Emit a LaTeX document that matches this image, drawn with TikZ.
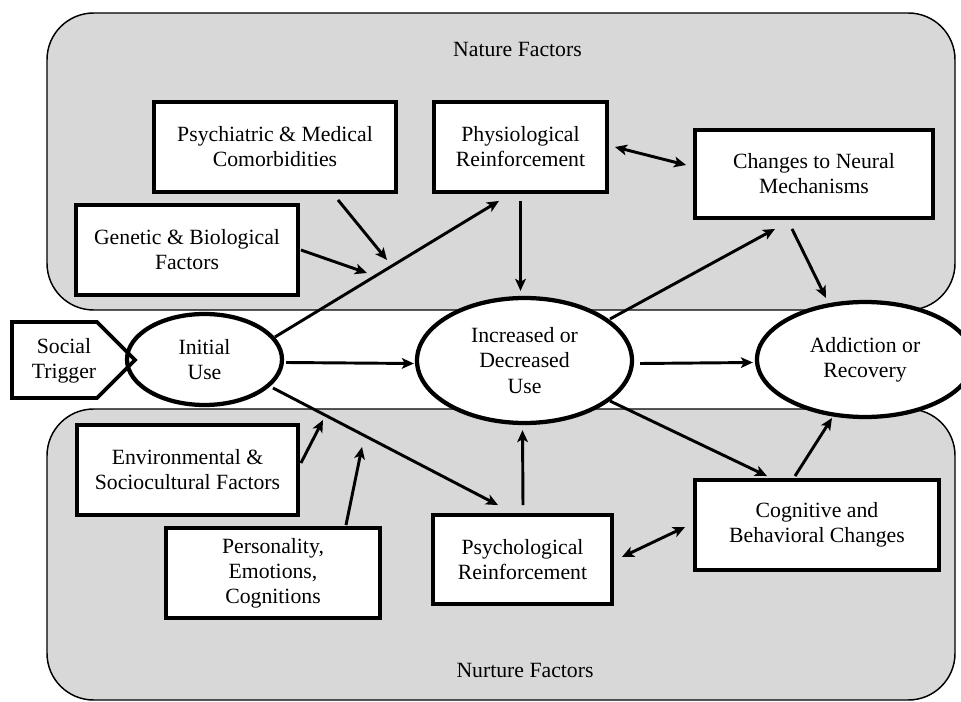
\documentclass[tikz,border=0pt]{standalone}
\usepackage{fontspec}
\setmainfont{Liberation Serif}
\usetikzlibrary{shapes.geometric,arrows.meta,calc}
\definecolor{panelgray}{RGB}{216,216,216}
\newcommand{\bodyfont}{\fontsize{16.3}{18.8}\selectfont}
\tikzset{
  panel/.style={draw=black, line width=1.1pt, fill=panelgray, rounded corners=35pt},
  box/.style={draw, line width=2.9pt, fill=white, align=center, inner sep=2pt, font=\bodyfont},
  oval/.style={ellipse, draw, line width=3.2pt, fill=white, align=center, inner sep=0pt, font=\bodyfont},
  lbl/.style={font=\bodyfont, inner sep=0pt},
  arr/.style={-{Stealth[length=9pt,width=8pt,inset=2.2pt]}, line width=2.2pt},
  darr/.style={{Stealth[length=9pt,width=8pt,inset=2.2pt]}-{Stealth[length=9pt,width=8pt,inset=2.2pt]}, line width=2.2pt},
  trigshape/.style={line width=2.9pt, line join=miter}
}
\begin{document}
\begin{tikzpicture}[x=0.75pt,y=-0.75pt]
\useasboundingbox (0,0) rectangle (961,702);
\clip (0,0) rectangle (961,702);
% panels
\path[panel] (47,13) rectangle (955,310);
\path[panel] (47,409) rectangle (955,700);
\node[lbl] (nature) at (517.5,49) {Nature Factors};
\node[lbl] (nurture) at (525,670) {Nurture Factors};

% social trigger (fill under the oval, outline over it)
\fill[white] (12,322) -- (97,322) -- (135,360) -- (97,398) -- (12,398) -- cycle;

% ellipses
\node[oval, minimum width=116.25pt, minimum height=68.25pt] (init) at (204.5,359.5) {Initial\\Use};
\node[oval, minimum width=161.25pt, minimum height=93.75pt] (incr) at (524.5,360.5) {Increased or\\Decreased\\Use};
\node[oval, minimum width=162pt, minimum height=86.25pt] (addic) at (865,359.5) {Addiction or\\Recovery};

\draw[trigshape] (12,322) -- (97,322) -- (135,360) -- (97,398) -- (12,398) -- cycle;
\node[lbl, align=center] (trig) at (64,361) {Social\\Trigger};

% boxes
\node[box, minimum width=181.5pt, minimum height=67.5pt] (psych) at (275,147) {Psychiatric \& Medical\\Comorbidities};
\node[box, minimum width=129.75pt, minimum height=67.5pt] (phys) at (520.5,147) {Physiological\\Reinforcement};
\node[box, minimum width=166.5pt, minimum height=67.5pt] (gen) at (187,250) {Genetic \& Biological\\Factors};
\node[box, minimum width=178.5pt, minimum height=66pt] (neural) at (814,174) {Changes to Neural\\Mechanisms};
\node[box, minimum width=165.75pt, minimum height=67.5pt] (env) at (187.5,470) {Environmental \&\\Sociocultural Factors};
\node[box, minimum width=160.5pt, minimum height=67.5pt] (pers) at (273,573) {Personality,\\Emotions,\\Cognitions};
\node[box, minimum width=134.25pt, minimum height=66.75pt] (psyc) at (522.5,559.5) {Psychological\\Reinforcement};
\node[box, minimum width=183pt, minimum height=67.5pt] (cog) at (817,525) {Cognitive and\\Behavioral Changes};

% junction points on arrows
\coordinate (j1) at (387,260);
\coordinate (j2) at (367,273);
\coordinate (j3) at (323,420);
\coordinate (j4) at (362,447);

% connectors
\draw[arr] ($(init)+(70.5,-22.5)$) -- ($(phys.south)+(-21.5,7)$);
\draw[arr] ($(psych.south)+(63,6)$) -- (j1);
\draw[arr] ($(gen.east)+(1,0)$) -- (j2);
\draw[arr] ($(phys.south)+(0,7)$) -- ($(phys.south |- incr.north)+(0,-5)$);
\draw[darr] ($(phys.east)+(6,0)$) -- ($(neural.west)+(-7,-9)$);
\draw[arr] ($(incr)+(85.5,-41.5)$) -- ($(neural.south)+(-39,9)$);
\draw[arr] ($(neural.south)+(-22,9)$) -- ($(addic)+(-39,-61.5)$);
\draw[arr] ($(init.east)+(2,3)$) -- ($(incr.west)+(-1,3)$);
\draw[arr] ($(incr.east)+(6,3)$) -- ($(addic.west)+(-2,3)$);
\draw[arr] ($(init)+(68.5,28.5)$) -- ($(psyc.north)+(-24.5,-8)$);
\draw[arr] ($(env.east)+(1,-7)$) -- (j3);
\draw[arr] ($(pers.north)+(73,-1)$) -- (j4);
\draw[arr] ($(psyc.north)+(0.5,-8)$) -- ($(psyc.north |- incr.south)+(0,5)$);
\draw[arr] ($(incr)+(85.5,40.5)$) -- ($(cog.north)+(-50,-2)$);
\draw[arr] ($(cog.north)+(-22,-2)$) -- ($(addic)+(-33,58.5)$);
\draw[darr] ($(psyc.east)+(8,-2.5)$) -- ($(cog.west)+(-8,2)$);
\end{tikzpicture}
\end{document}
